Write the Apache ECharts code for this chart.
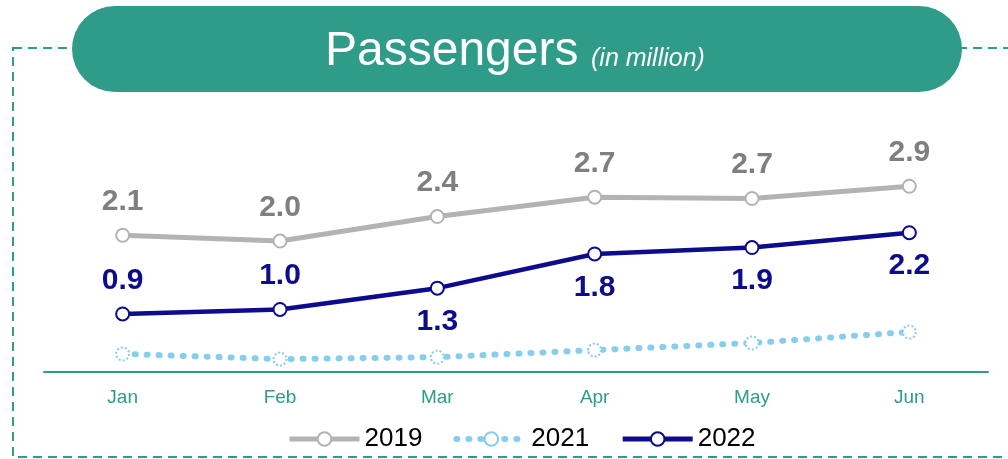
<!DOCTYPE html>
<html>
<head>
<meta charset="utf-8">
<script src="https://cdn.jsdelivr.net/npm/echarts@6/dist/echarts.min.js"></script>
<style>
	html, body { margin: 0; padding: 0; background: #fff; }
	#chart { width: 1008px; height: 459px; }
</style>
</head>
<body>
<div id="chart"></div>
<script>
// 月份
var months = ['Jan', 'Feb', 'Mar', 'Apr', 'May', 'Jun'];
// 旅客数据（百万）
var data2019 = [2.12, 2.03, 2.41, 2.71, 2.69, 2.88];
var data2021 = [0.28, 0.20, 0.23, 0.34, 0.45, 0.62];
var data2022 = [0.90, 0.97, 1.30, 1.83, 1.93, 2.16];

var teal = '#2e9c88';
var gray = '#b3b3b3';
var navy = '#0c0c8c';
var sky = '#87cdee';
var font = '"Liberation Sans", Arial, sans-serif';

var fmt = function(p) {
	return p.value.toFixed(1);
};

var myChart = echarts.init(document.getElementById('chart'));

var option = {
	animation: false,
	grid: {
		left: 44,
		right: 20,
		top: 114,
		bottom: 87
	},
	graphic: [{
			type: 'rect',
			z: 0,
			shape: { x: 13, y: 48, width: 1100, height: 409 },
			style: { fill: 'none', stroke: teal, lineWidth: 2, lineDash: [9, 6] }
		},
		{
			type: 'rect',
			z: 1,
			shape: { x: 72, y: 6, width: 890, height: 86, r: 43 },
			style: { fill: teal }
		},
		{
			type: 'text',
			z: 2,
			x: 325,
			y: 52,
			style: {
				text: 'Passengers',
				fill: '#fff',
				font: '48px ' + font,
				verticalAlign: 'middle'
			}
		},
		{
			type: 'text',
			z: 2,
			x: 591,
			y: 59,
			style: {
				text: '(in million)',
				fill: '#fff',
				font: 'italic 25px ' + font,
				verticalAlign: 'middle'
			}
		}
	],
	legend: {
		left: 287,
		bottom: 7,
		padding: 0,
		itemWidth: 70,
		itemHeight: 17,
		itemGap: 31,
		textStyle: {
			fontSize: 26,
			color: '#000',
			fontFamily: font
		},
		data: [{
				name: '2019',
				lineStyle: { width: 5 }
			},
			{
				name: '2021',
				lineStyle: { width: 6 }
			},
			{
				name: '2022',
				lineStyle: { width: 5 }
			}
		]
	},
	xAxis: {
		type: 'category',
		data: months,
		boundaryGap: true,
		axisLine: { lineStyle: { color: teal, width: 2 } },
		axisTick: { show: false },
		axisLabel: {
			color: teal,
			fontSize: 19,
			margin: 16,
			fontFamily: font
		}
	},
	yAxis: {
		type: 'value',
		min: 0,
		max: 4,
		show: false,
		splitLine: { show: false }
	},
	series: [{
			name: '2019',
			type: 'line',
			data: data2019,
			symbol: 'circle',
			symbolSize: 13,
			lineStyle: { color: gray, width: 5 },
			itemStyle: { color: '#fff', borderColor: gray, borderWidth: 2 },
			label: {
				show: true,
				position: 'top',
				distance: 11,
				color: '#7f7f7f',
				fontSize: 30,
				fontWeight: 'bold',
				fontFamily: font,
				formatter: fmt
			},
			z: 3
		},
		{
			name: '2021',
			type: 'line',
			data: data2021,
			symbol: 'circle',
			symbolSize: 13,
			lineStyle: { color: sky, width: 6, type: [1, 11], cap: 'round' },
			itemStyle: { color: '#fff', borderColor: sky, borderWidth: 2, borderType: 'dotted' },
			z: 2
		},
		{
			name: '2022',
			type: 'line',
			data: data2022.map(function(v, i) {
				return {
					value: v,
					label: { position: i < 2 ? 'top' : 'bottom' }
				};
			}),
			symbol: 'circle',
			symbolSize: 13,
			lineStyle: { color: navy, width: 4.5 },
			itemStyle: { color: '#fff', borderColor: navy, borderWidth: 2 },
			label: {
				show: true,
				distance: 11,
				color: navy,
				fontSize: 30,
				fontWeight: 'bold',
				fontFamily: font,
				formatter: fmt
			},
			z: 4
		}
	]
};

myChart.setOption(option);
</script>
</body>
</html>
